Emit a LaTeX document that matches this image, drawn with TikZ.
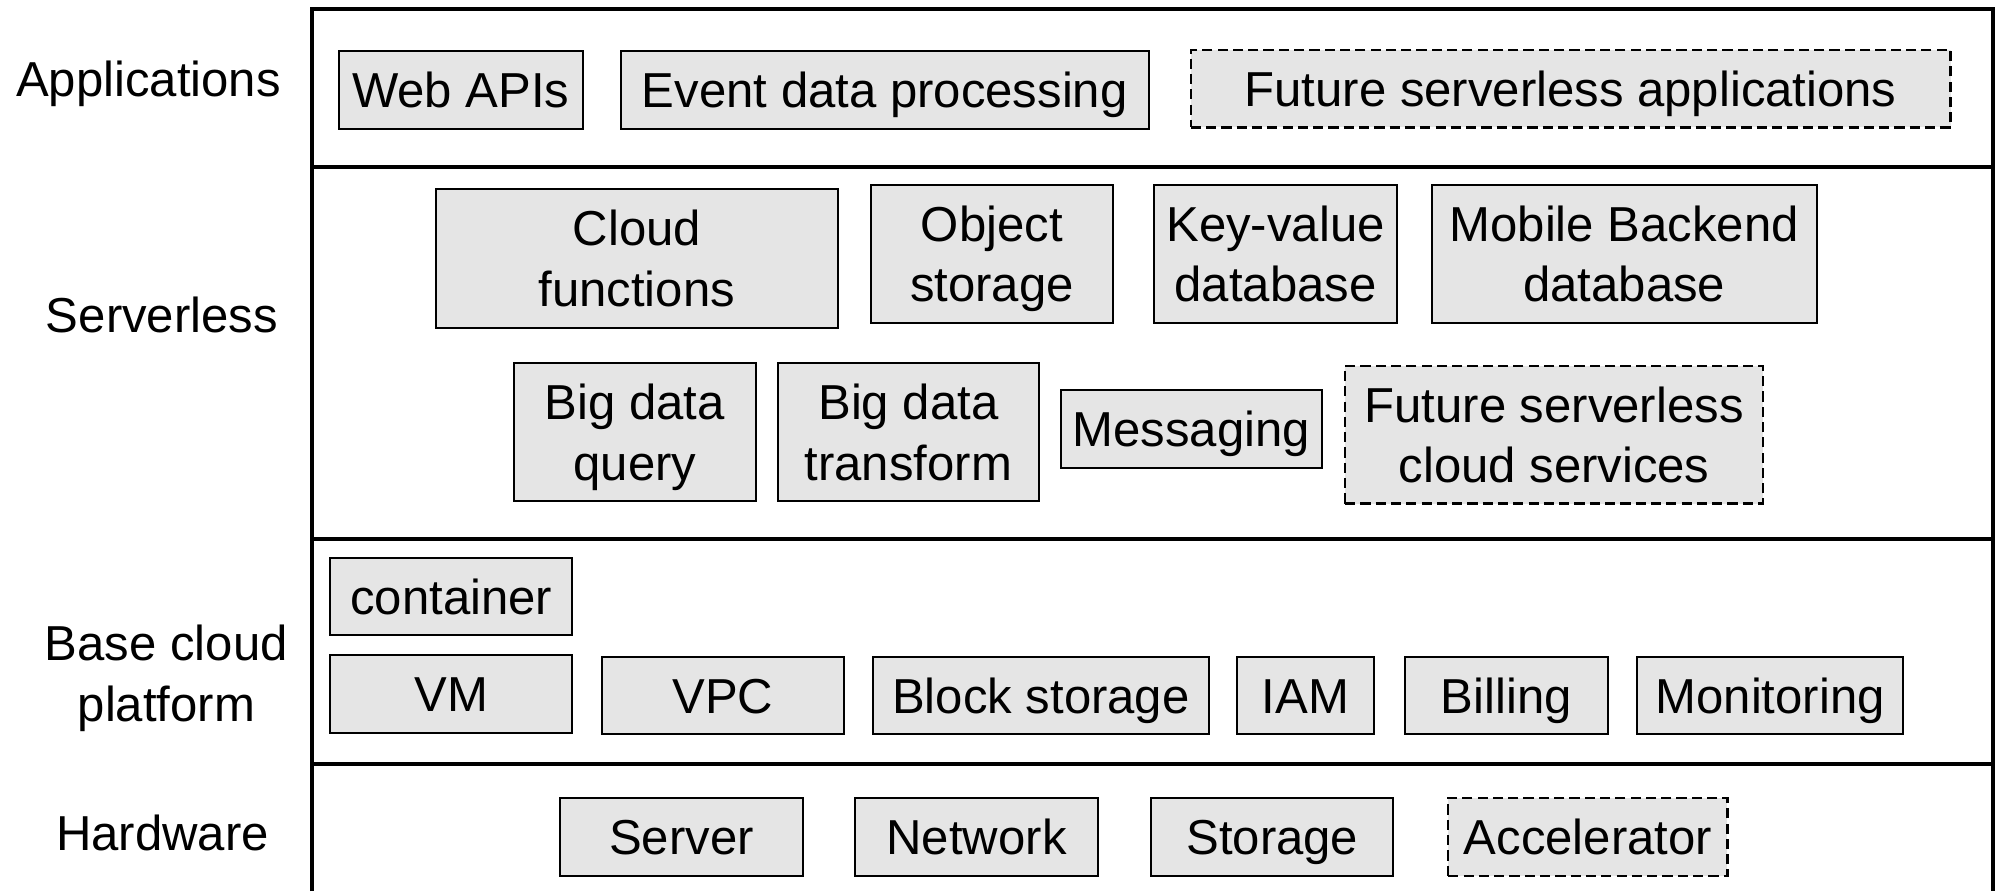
\documentclass[tikz,border=0pt]{standalone}
\usepackage{fontspec}
\setmainfont{Liberation Sans}
\definecolor{boxfill}{RGB}{229,229,229}
\begin{document}
\begin{tikzpicture}[x=1pt,y=-1pt,
  lbl/.style={font=\fontsize{38.5}{47.5}\selectfont, align=center,
              text height=27.6pt, text depth=0pt, inner sep=0pt},
  twoline/.style={text height=75.1pt, text depth=0pt},
  svc/.style={lbl, draw=black, line width=1.6pt, fill=boxfill},
  fut/.style={svc, line width=1.8pt, dash pattern=on 8pt off 4pt},
  frame/.style={line width=3.2pt}]
\useasboundingbox (0,0) rectangle (1568,699);

% layer frame
\draw[frame] (245,699) -- (245,7) -- (1563,7) -- (1563,699);
\draw[frame] (245,131) -- (1563,131);
\draw[frame] (245,423) -- (1563,423);
\draw[frame] (245,599) -- (1563,599);

% layer names
\node[lbl] (lapp) at (116.5,61.5) {Applications};
\node[lbl] (lsrv) at (127,247) {Serverless};
\node[lbl, twoline] (lbase) at (130.5,528) {Base cloud\\platform};
\node[lbl] (lhw) at (127.5,653.5) {Hardware};

% applications
\node[svc, minimum width=191pt, minimum height=61pt] (webapi) at (361.5,70.5) {Web APIs};
\node[svc, minimum width=414pt, minimum height=61pt] (event) at (694,70.5) {Event data processing};
\node[fut, minimum width=596pt, minimum height=61pt] (futapp) at (1232,69.5) {Future serverless applications};

% serverless services
\node[svc, twoline, minimum width=315pt, minimum height=109pt] (cloudfn) at (499.5,202.5) {Cloud\\functions};
\node[svc, twoline, minimum width=190pt, minimum height=108pt] (objst) at (778,199) {Object\\storage};
\node[svc, twoline, minimum width=191pt, minimum height=108pt] (kv) at (1000.5,199) {Key-value\\database};
\node[svc, twoline, minimum width=302pt, minimum height=108pt] (mbaas) at (1274,199) {Mobile Backend\\database};

\node[svc, twoline, minimum width=190pt, minimum height=108pt] (bdq) at (498,339) {Big data\\query};
\node[svc, twoline, minimum width=205pt, minimum height=108pt] (bdt) at (712.5,339) {Big data\\transform};
\node[svc, minimum width=205pt, minimum height=61pt] (msg) at (934.5,336.5) {Messaging};
\node[fut, twoline, minimum width=328pt, minimum height=108pt] (futsvc) at (1219,341) {Future serverless\\cloud services};

% base cloud platform
\node[svc, minimum width=190pt, minimum height=60pt] (container) at (354,468) {container};
\node[svc, minimum width=190pt, minimum height=61pt] (vm) at (354,544.5) {VM};
\node[svc, minimum width=190pt, minimum height=61pt] (vpc) at (567,545.5) {VPC};
\node[svc, minimum width=263pt, minimum height=61pt] (block) at (816.5,545.5) {Block storage};
\node[svc, minimum width=108pt, minimum height=61pt] (iam) at (1024,545.5) {IAM};
\node[svc, minimum width=159pt, minimum height=61pt] (billing) at (1181.5,545.5) {Billing};
\node[svc, minimum width=209pt, minimum height=61pt] (monitor) at (1388.5,545.5) {Monitoring};

% hardware
\node[svc, minimum width=191pt, minimum height=61pt] (server) at (534.5,656.5) {Server};
\node[svc, minimum width=190pt, minimum height=61pt] (network) at (766,656.5) {Network};
\node[svc, minimum width=190pt, minimum height=61pt] (storage) at (998,656.5) {Storage};
\node[fut, minimum width=219pt, minimum height=61pt] (accel) at (1245.5,656.5) {Accelerator};
\end{tikzpicture}
\end{document}
